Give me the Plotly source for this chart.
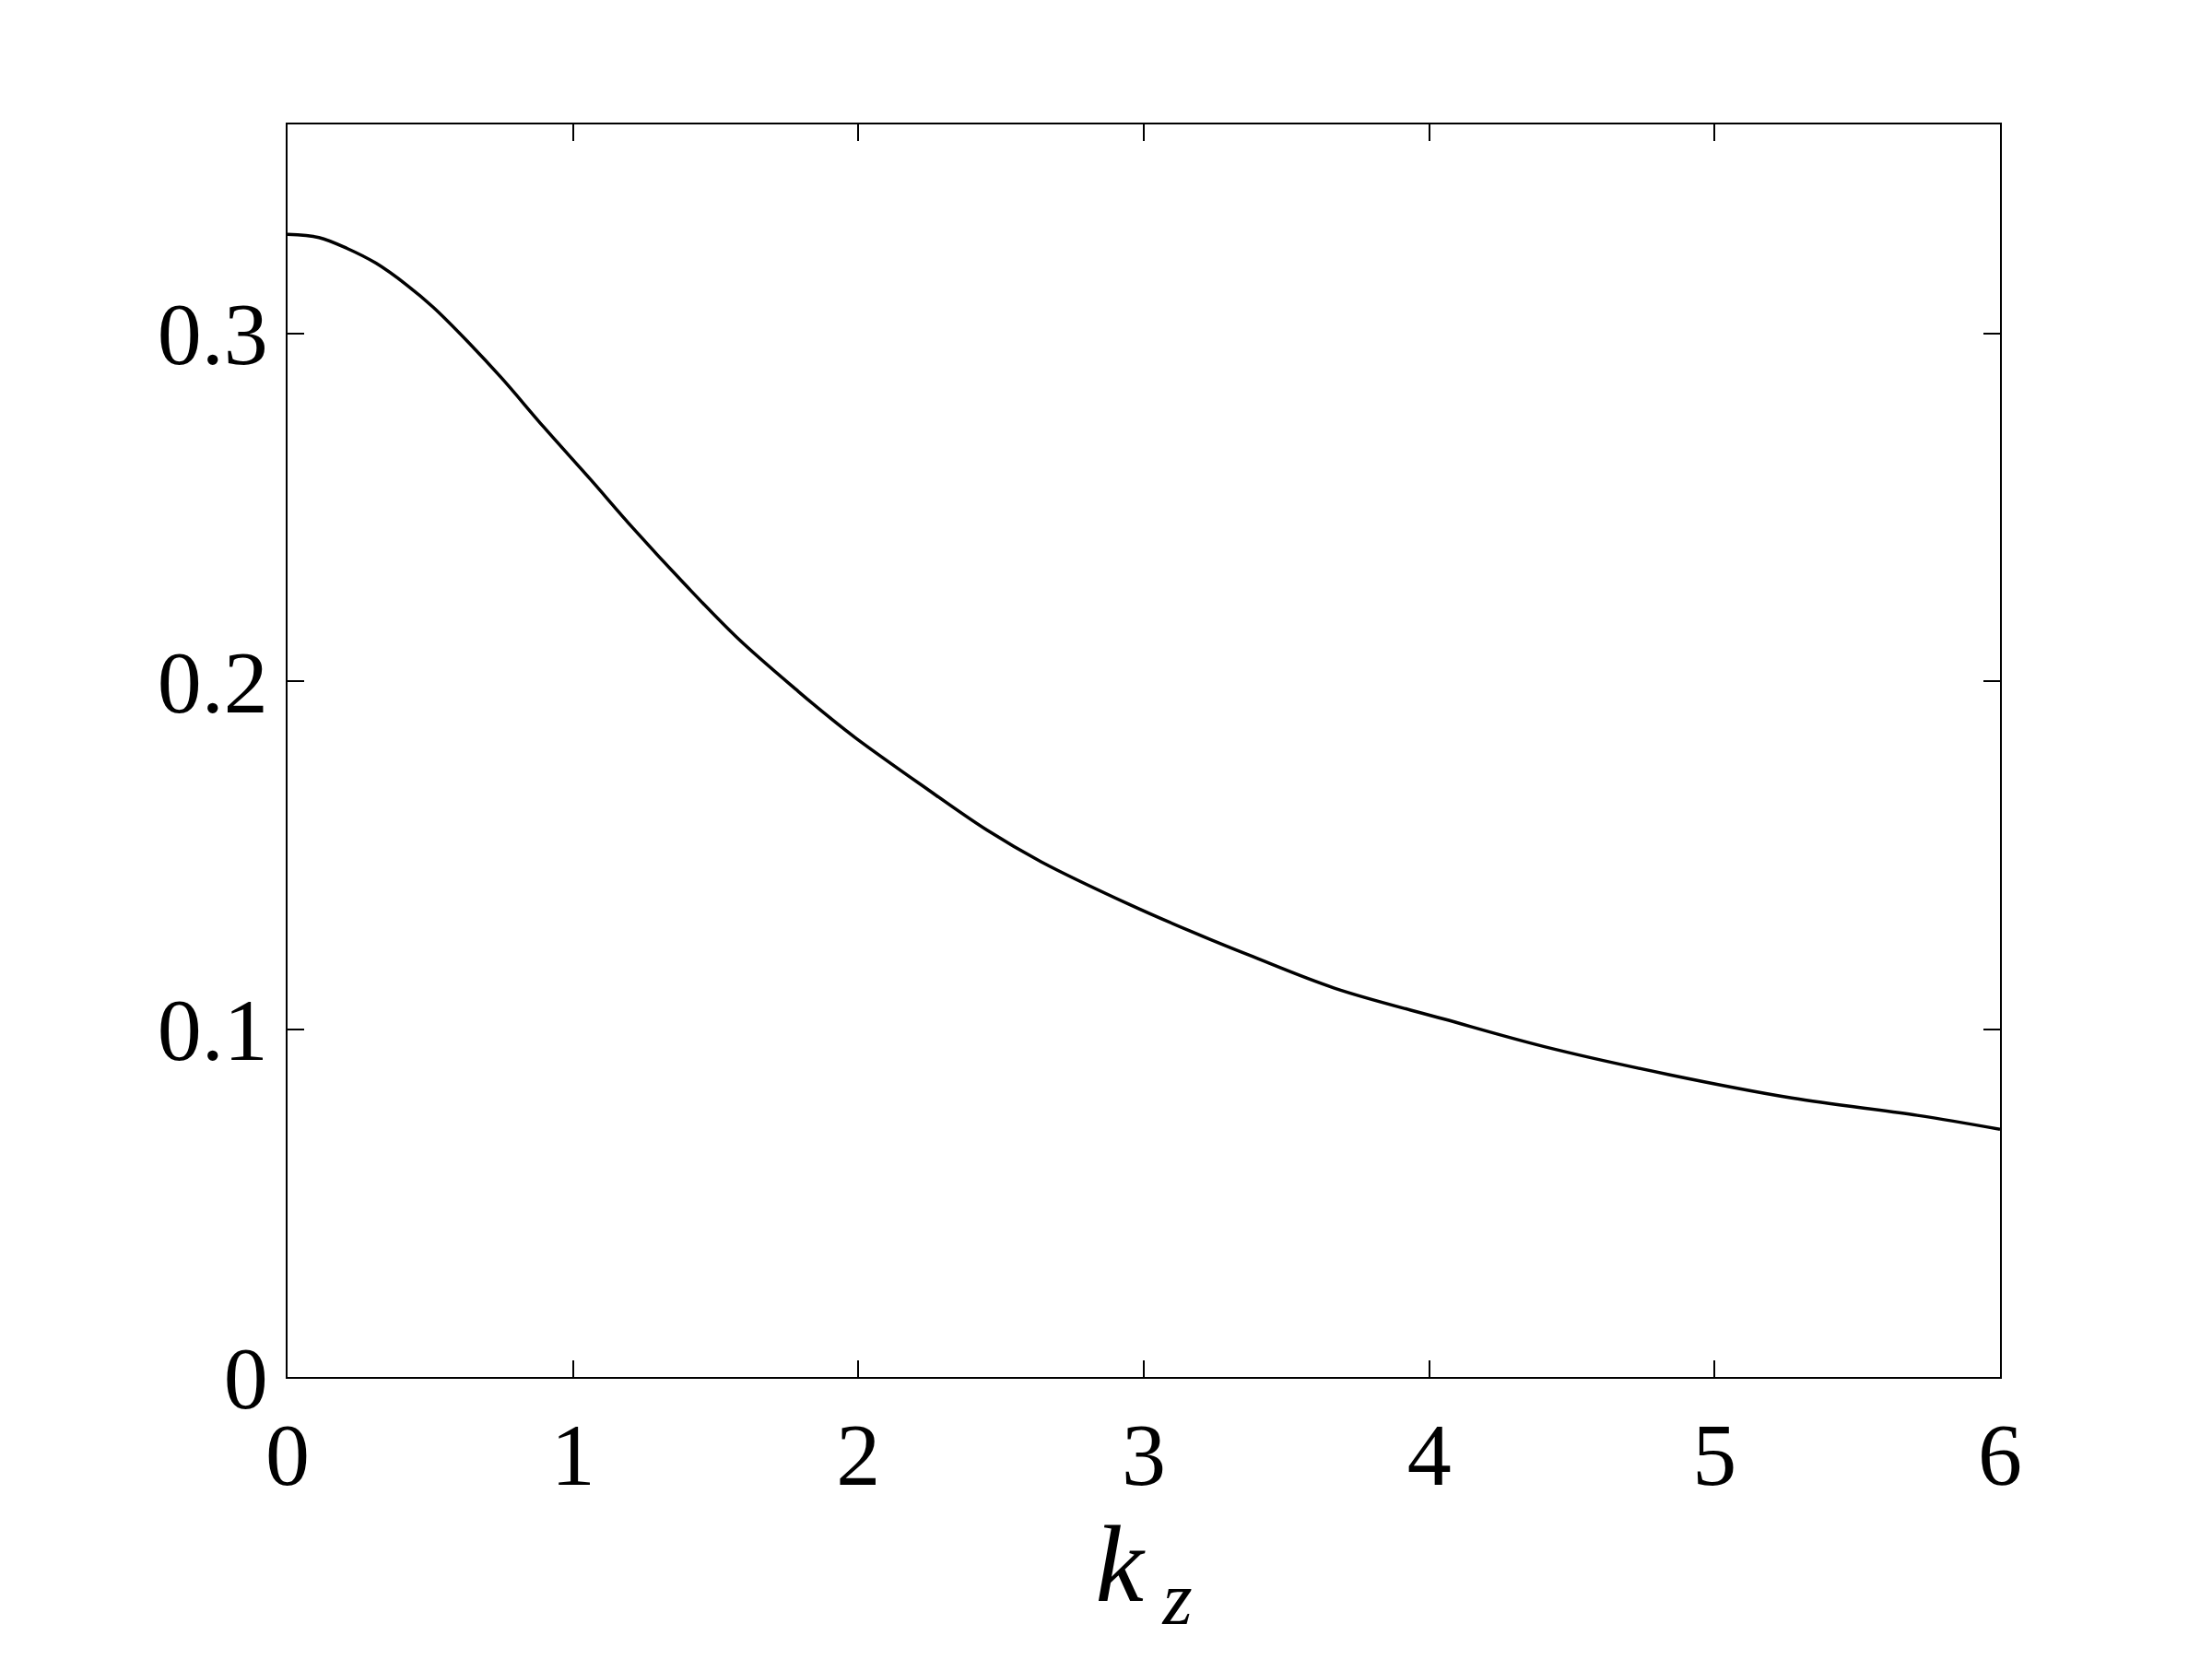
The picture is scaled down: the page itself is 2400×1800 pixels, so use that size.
import plotly.graph_objects as go

# Curve (kz, value).
kz = [0, 0.11, 0.21, 0.31, 0.42, 0.51, 0.63, 0.75, 0.9, 1.06, 1.21, 1.39,
      1.58, 1.79, 1.9, 1.99, 2.22, 2.45, 2.64, 2.95, 3.17, 3.37, 3.67, 4.05,
      4.41, 4.84, 5.27, 5.71, 6.0]
growth = [0.3284, 0.3275, 0.3243, 0.3201, 0.3137, 0.3075, 0.2977, 0.2871,
          0.2728, 0.2581, 0.2440, 0.2280, 0.2121, 0.1970, 0.1895, 0.1837,
          0.1702, 0.1572, 0.1481, 0.1358, 0.1279, 0.1212, 0.1117, 0.1029,
          0.0948, 0.0869, 0.0802, 0.0752, 0.0712]

x_ticks = [0, 1, 2, 3, 4, 5, 6]
y_ticks = [0, 0.1, 0.2, 0.3]
y_tick_labels = ["0", "0.1", "0.2", "0.3"]

font = "Liberation Serif"

fig = go.Figure()
fig.add_trace(go.Scatter(x=kz, y=growth, mode="lines", line_shape="spline",
                         line=dict(color="black", width=3.5), showlegend=False))

axis_style = dict(showline=True, linecolor="black", linewidth=2, mirror="ticks",
                  ticks="inside", ticklen=18, tickwidth=2, tickcolor="black",
                  showgrid=False, zeroline=False,
                  tickfont=dict(family=font, size=96, color="black"))

fig.update_xaxes(range=[0, 6], tickvals=x_ticks,
                 title=dict(text="<i>k</i><sub><i> z</i></sub>",
                            font=dict(family=font, size=118, color="black"),
                            standoff=0),
                 **axis_style)
fig.update_yaxes(range=[0, 0.36], tickvals=y_ticks, ticktext=y_tick_labels,
                 **axis_style)

# page body adds an 8px offset, so margins are shifted to match the reference
fig.update_layout(width=2400, height=1800, plot_bgcolor="white",
                  paper_bgcolor="white",
                  margin=dict(l=304, r=238, t=127, b=314))

fig.write_html("out.html")
